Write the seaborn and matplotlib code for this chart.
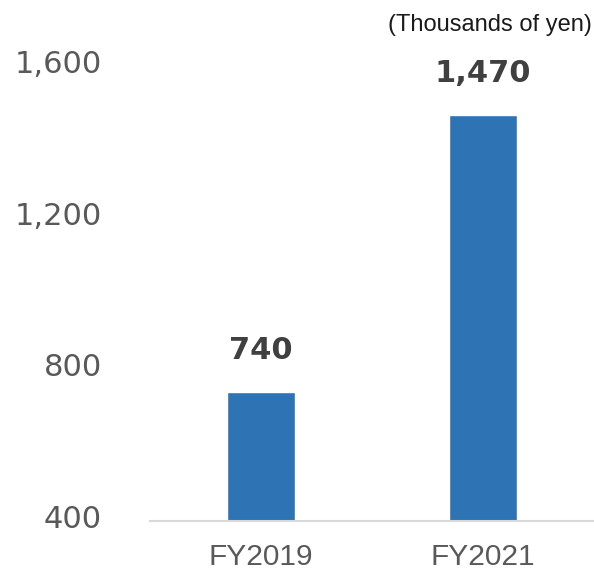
import matplotlib
matplotlib.use("Agg")
import matplotlib.pyplot as plt
import matplotlib.transforms as mtransforms
import seaborn as sns
import pandas as pd

# chart data
years = ["FY2019", "FY2021"]
values = [740, 1470]
y_ticks = [400, 800, 1200, 1600]
unit_label = "(Thousands of yen)"

bar_color = "#2E74B5"
tick_color = "#595959"
label_color = "#404040"

sns.set_theme(style="white")
plt.rcParams["font.family"] = ["DejaVu Sans"]

data = pd.DataFrame({"Year": years, "Value": values})

fig = plt.figure(figsize=(5.94, 5.71), dpi=100)
ax = fig.add_axes([0.2525, 0.0884, 0.7475, 0.7966])

sns.barplot(data=data, x="Year", y="Value", color=bar_color, width=0.31,
            saturation=1, ax=ax)

ax.set_xlim(-0.5, 1.5)
ax.set_ylim(400, 1600)
ax.set_yticks(y_ticks)
ax.set_yticklabels([f"{v:,}" for v in y_ticks])
ax.set_xlabel("")
ax.set_ylabel("")

ax.tick_params(axis="y", length=0, pad=34.5, labelsize=22, labelcolor=tick_color)
ax.tick_params(axis="x", length=0, pad=16, labelsize=21.5, labelcolor=tick_color)
for lab in ax.get_xticklabels():
    lab.set_fontfamily("Liberation Sans")

# nudge y tick labels up a few pixels like the reference
shift = mtransforms.ScaledTranslation(0, 4 / 100, fig.dpi_scale_trans)
for lab in ax.get_yticklabels():
    lab.set_transform(lab.get_transform() + shift)

for side in ["left", "right", "top"]:
    ax.spines[side].set_visible(False)
ax.spines["bottom"].set_color("#D9D9D9")
ax.spines["bottom"].set_linewidth(1.5)

for i, v in enumerate(values):
    ax.annotate(f"{v:,}", xy=(i, v), xytext=(0, 29.5), textcoords="offset points",
                ha="center", va="center", fontsize=22, fontweight="bold",
                color=label_color)

fig.text(0.9966, 0.956, unit_label, ha="right", va="center", fontsize=17,
         family="Liberation Sans", color="#1a1a1a")

fig.savefig("out.png", dpi=100)
